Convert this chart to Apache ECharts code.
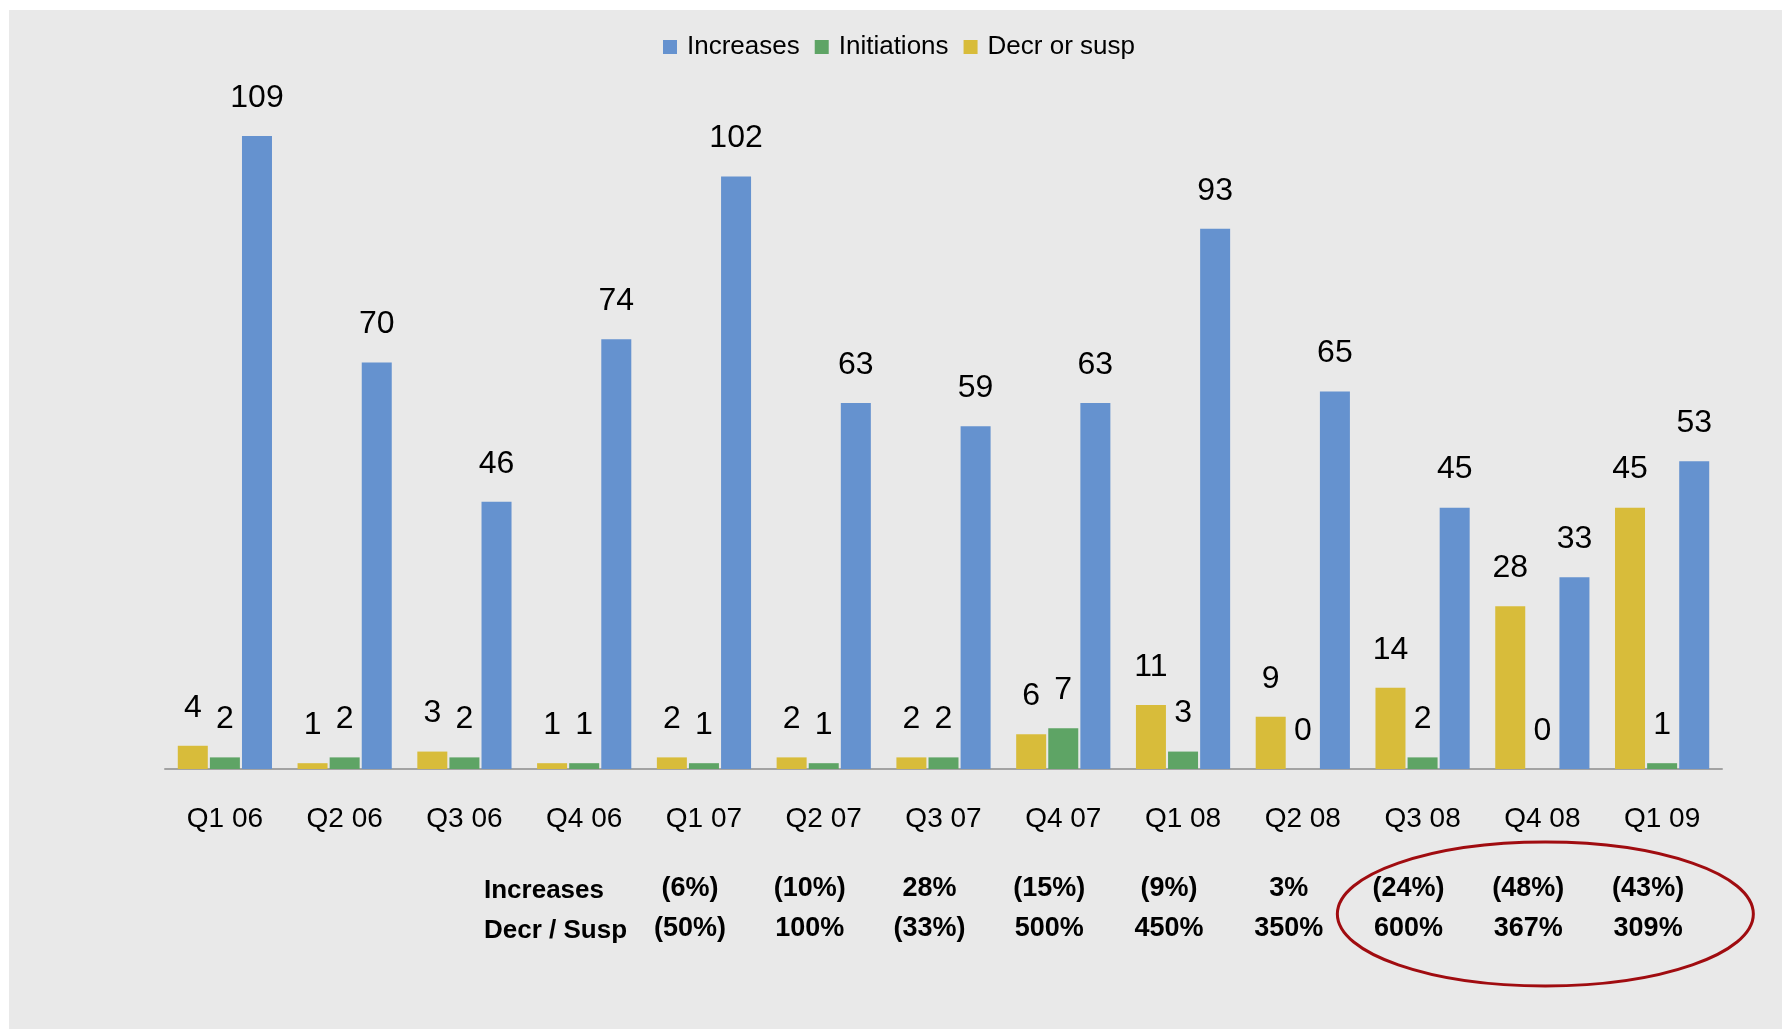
<!DOCTYPE html>
<html>
<head>
<meta charset="utf-8">
<script src="https://cdn.jsdelivr.net/npm/echarts@6/dist/echarts.min.js"></script>
<style>
  html, body { margin: 0; padding: 0; background: #fff; }
  #chart { position: absolute; left: 9px; top: 10px; width: 1773px; height: 1019px; }
</style>
</head>
<body>
<div id="chart"></div>
<script>
  // quarters and series values
  const quarters = ['Q1 06', 'Q2 06', 'Q3 06', 'Q4 06', 'Q1 07', 'Q2 07', 'Q3 07', 'Q4 07', 'Q1 08', 'Q2 08', 'Q3 08', 'Q4 08', 'Q1 09'];
  const decrSusp = [4, 1, 3, 1, 2, 2, 2, 6, 11, 9, 14, 28, 45];
  const initiations = [2, 2, 2, 1, 1, 1, 2, 7, 3, 0, 2, 0, 1];
  const increases = [109, 70, 46, 74, 102, 63, 59, 63, 93, 65, 45, 33, 53];
  // year-over-year change rows under the axis
  const increasesChg = ['', '', '', '', '(6%)', '(10%)', '28%', '(15%)', '(9%)', '3%', '(24%)', '(48%)', '(43%)'];
  const decrChg = ['', '', '', '', '(50%)', '100%', '(33%)', '500%', '450%', '350%', '600%', '367%', '309%'];
  const rowNames = ['Increases', 'Decr / Susp'];

  const font = '"Liberation Sans Narrow", "Liberation Sans", sans-serif';
  const chart = echarts.init(document.getElementById('chart'));

  const barLabel = {
    show: true,
    position: 'top',
    distance: 22,
    color: '#000',
    fontFamily: font,
    fontSize: 32
  };

  chart.setOption({
    backgroundColor: '#e9e9e9',
    animation: false,
    legend: {
      left: 649,
      top: 19,
      itemWidth: 14,
      itemHeight: 14,
      itemGap: 15,
      icon: 'rect',
      data: ['Increases', 'Initiations', 'Decr or susp'],
      textStyle: { fontFamily: font, fontSize: 26, color: '#000', padding: [0, 0, 0, 5] }
    },
    grid: { left: 156, right: 60, top: 62, bottom: 260 },
    xAxis: [{
      type: 'category',
      data: quarters,
      axisLine: { lineStyle: { color: '#a3a3a3', width: 2 } },
      axisTick: { show: false },
      axisLabel: { interval: 0, margin: 36, color: '#000', fontFamily: font, fontSize: 28 }
    }, {
      type: 'category',
      data: quarters,
      position: 'bottom',
      axisLine: { show: false },
      axisTick: { show: false },
      axisLabel: {
        interval: 0,
        margin: 100,
        formatter: function (v, i) {
          return increasesChg[i] ? '{v|' + increasesChg[i] + '}\n{v|' + decrChg[i] + '}' : '';
        },
        rich: {
          v: { fontFamily: font, fontSize: 27, fontWeight: 'bold', color: '#000', lineHeight: 40, padding: [0, 28, 0, 0] }
        }
      }
    }],
    yAxis: { type: 'value', min: 0, max: 120, show: false, splitLine: { show: false } },
    series: [{
      name: 'Decr or susp',
      type: 'bar',
      barWidth: 30,
      barGap: '7%',
      itemStyle: { color: '#d8bc3a' },
      label: barLabel,
      data: decrSusp
    }, {
      name: 'Initiations',
      type: 'bar',
      barWidth: 30,
      barGap: '7%',
      itemStyle: { color: '#5ea465' },
      label: barLabel,
      data: initiations
    }, {
      name: 'Increases',
      type: 'bar',
      barWidth: 30,
      barGap: '7%',
      itemStyle: { color: '#6592cf' },
      label: barLabel,
      data: increases
    }]
  });

  // row headers and the red ellipse around the last three quarters
  const cx = chart.convertToPixel({ xAxisIndex: 0 }, 'Q4 08') + 3;
  chart.setOption({
    graphic: [{
      type: 'text',
      left: 475,
      top: 861,
      style: {
        text: rowNames.join('\n'),
        fontFamily: font,
        fontSize: 26,
        fontWeight: 'bold',
        fill: '#000',
        lineHeight: 40
      }
    }, {
      type: 'ellipse',
      shape: { cx: cx, cy: 904, rx: 208, ry: 72 },
      style: { fill: null, stroke: '#a00c10', lineWidth: 3 }
    }]
  });
</script>
</body>
</html>
